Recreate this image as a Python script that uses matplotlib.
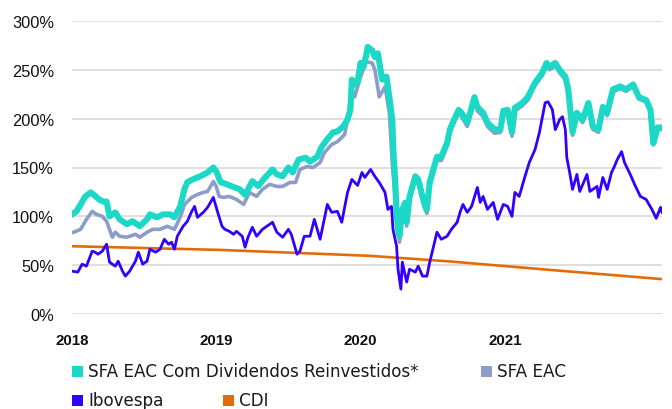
import matplotlib
matplotlib.use("Agg")
import matplotlib.pyplot as plt
from matplotlib.patches import Rectangle

# ---------------- data (decimal years, % values) ----------------
teal_t = [2018.00, 2018.03, 2018.06, 2018.09, 2018.13, 2018.16, 2018.19, 2018.22, 2018.24, 2018.26,
          2018.30, 2018.33, 2018.38, 2018.42, 2018.47, 2018.52, 2018.54, 2018.59, 2018.63, 2018.68,
          2018.71, 2018.75, 2018.78, 2018.80, 2018.84, 2018.89, 2018.94, 2018.98, 2019.00, 2019.03,
          2019.07, 2019.12, 2019.16, 2019.20, 2019.25, 2019.29, 2019.34, 2019.39, 2019.42, 2019.46,
          2019.50, 2019.53, 2019.57, 2019.62, 2019.65, 2019.70, 2019.73, 2019.77, 2019.81, 2019.84,
          2019.88, 2019.91, 2019.93, 2019.94, 2019.96, 2019.98, 2020.00, 2020.02, 2020.04, 2020.05,
          2020.08, 2020.10, 2020.12, 2020.15, 2020.18, 2020.20, 2020.22, 2020.23, 2020.24, 2020.25,
          2020.26, 2020.27, 2020.29, 2020.31, 2020.32, 2020.34, 2020.38, 2020.40, 2020.43, 2020.45,
          2020.46, 2020.48, 2020.53, 2020.56, 2020.60, 2020.62, 2020.64, 2020.68, 2020.70, 2020.74,
          2020.76, 2020.79, 2020.81, 2020.85, 2020.88, 2020.93, 2020.97, 2020.99, 2021.02, 2021.05,
          2021.07, 2021.12, 2021.16, 2021.21, 2021.26, 2021.29, 2021.31, 2021.35, 2021.38, 2021.42,
          2021.44, 2021.47, 2021.50, 2021.54, 2021.58, 2021.61, 2021.65, 2021.68, 2021.71, 2021.75,
          2021.80, 2021.84, 2021.89, 2021.93, 2021.98, 2022.01, 2022.03, 2022.06, 2022.09]
teal_v = [102, 105, 112, 120, 124.5, 121, 117, 115, 115, 100,
          104, 97, 92, 95, 90, 97, 102, 99, 102, 102,
          99, 110, 128, 135, 138, 141, 145, 150, 146, 135,
          133, 130, 128, 122, 136, 131, 140, 148, 143, 141,
          150, 145, 158, 160, 156, 161, 171, 179, 186, 187,
          192, 199, 209, 240, 235, 237, 257, 253, 265, 273.5,
          270, 263, 267, 240, 243, 222, 199, 161, 138, 104,
          87, 80, 107, 114, 94, 120, 141, 138, 120, 110,
          107, 135, 161, 161, 175, 189, 196, 209, 206, 196,
          206, 222, 212, 206, 196, 189, 189, 208, 209, 186,
          211, 216, 222, 237, 247, 257, 253, 257, 250, 243,
          230, 186, 206, 199, 216, 192, 189, 212, 206, 230,
          233, 230, 235, 222, 219, 209, 175, 191, 191]

grey_t = [2018.01, 2018.06, 2018.10, 2018.14, 2018.17, 2018.21, 2018.24, 2018.28, 2018.30, 2018.33,
          2018.38, 2018.44, 2018.47, 2018.52, 2018.56, 2018.61, 2018.66, 2018.71, 2018.75, 2018.78,
          2018.83, 2018.87, 2018.91, 2018.94, 2018.98, 2019.00, 2019.02, 2019.05, 2019.09, 2019.14,
          2019.19, 2019.23, 2019.28, 2019.32, 2019.37, 2019.42, 2019.46, 2019.51, 2019.55, 2019.58,
          2019.63, 2019.67, 2019.72, 2019.75, 2019.80, 2019.84, 2019.89, 2019.91, 2019.94, 2019.96,
          2020.00, 2020.04, 2020.08, 2020.10, 2020.13, 2020.17, 2020.20, 2020.22, 2020.25, 2020.27,
          2020.29, 2020.31, 2020.32, 2020.34, 2020.38, 2020.40, 2020.43, 2020.45, 2020.46, 2020.48,
          2020.53, 2020.56, 2020.60, 2020.62, 2020.64, 2020.68, 2020.70, 2020.74, 2020.76, 2020.79,
          2020.81, 2020.85, 2020.88, 2020.93, 2020.97, 2020.99, 2021.02, 2021.05, 2021.07, 2021.12,
          2021.16, 2021.21, 2021.26, 2021.29, 2021.31, 2021.35, 2021.38, 2021.42, 2021.44, 2021.47,
          2021.50, 2021.54, 2021.58, 2021.61, 2021.65, 2021.68, 2021.71, 2021.75, 2021.80, 2021.84,
          2021.89, 2021.93, 2021.98, 2022.01, 2022.03, 2022.06, 2022.09]
grey_v = [83.7, 86.7, 96.9, 105.1, 102, 100, 94.9, 78.6, 83.7, 79.6,
          78.6, 81.6, 78.6, 83.7, 86.7, 86.7, 89.8, 86.7, 99, 112.2,
          119.4, 122.4, 124.5, 125.5, 135.7, 130.6, 120.4, 119.4, 120.4, 117.3,
          112.2, 124.5, 120.4, 127.6, 132.7, 130.6, 130.6, 134.7, 134.7, 148,
          151, 150, 155.1, 165.3, 173.5, 176.5, 183.7, 199, 229.6, 222.4,
          242.9, 258.2, 257.1, 250, 222.4, 232.7, 206.1, 155.1, 100, 73.5,
          104, 111, 90, 117, 138, 134, 116, 106, 103, 131,
          158, 157, 172, 186, 193, 206, 202, 192, 203, 219,
          208, 202, 192, 185, 186, 204, 206, 182, 208, 213,
          219, 234, 244, 254, 250, 254, 247, 240, 227, 183,
          203, 196, 213, 189, 186, 209, 203, 227, 231, 228,
          233, 220, 217, 207, 173, 189, 189]

ibov_t = [2018.00, 2018.04, 2018.07, 2018.10, 2018.14, 2018.16, 2018.18, 2018.21, 2018.24, 2018.26,
          2018.30, 2018.32, 2018.35, 2018.37, 2018.40, 2018.44, 2018.46, 2018.49, 2018.52, 2018.54,
          2018.58, 2018.61, 2018.64, 2018.67, 2018.69, 2018.71, 2018.73, 2018.77, 2018.80, 2018.83,
          2018.85, 2018.87, 2018.91, 2018.94, 2018.98, 2019.01, 2019.04, 2019.06, 2019.09, 2019.12,
          2019.14, 2019.18, 2019.20, 2019.22, 2019.25, 2019.28, 2019.32, 2019.35, 2019.39, 2019.42,
          2019.46, 2019.50, 2019.52, 2019.56, 2019.58, 2019.61, 2019.65, 2019.68, 2019.72, 2019.77,
          2019.80, 2019.84, 2019.87, 2019.91, 2019.94, 2019.98, 2020.01, 2020.03, 2020.07, 2020.10,
          2020.13, 2020.17, 2020.19, 2020.215, 2020.225, 2020.25, 2020.26, 2020.28, 2020.29, 2020.32,
          2020.34, 2020.38, 2020.40, 2020.43, 2020.46, 2020.48, 2020.53, 2020.56, 2020.60, 2020.63,
          2020.67, 2020.69, 2020.71, 2020.74, 2020.77, 2020.81, 2020.83, 2020.85, 2020.88, 2020.92,
          2020.95, 2020.99, 2021.02, 2021.05, 2021.07, 2021.10, 2021.14, 2021.17, 2021.21, 2021.24,
          2021.28, 2021.30, 2021.33, 2021.35, 2021.36, 2021.38, 2021.40, 2021.42, 2021.43, 2021.45,
          2021.47, 2021.50, 2021.52, 2021.57, 2021.59, 2021.64, 2021.65, 2021.68, 2021.71, 2021.74,
          2021.76, 2021.78, 2021.81, 2021.83, 2021.87, 2021.90, 2021.94, 2021.98, 2022.02, 2022.05,
          2022.08, 2022.09]
ibov_v = [43.9, 42.9, 51.0, 49.0, 64.3, 63.3, 61.2, 64.3, 71.4, 53.1,
          49.0, 54.1, 43.9, 38.8, 43.9, 54.1, 63.3, 51.0, 54.1, 66.3,
          63.3, 66.3, 76.5, 71.4, 73.5, 66.3, 79.6, 89.8, 94.9, 105.1,
          110.2, 99.0, 104.1, 109.2, 119.4, 104.1, 89.8, 86.7, 84.7, 81.6,
          84.7, 79.6, 68.4, 78.6, 88.8, 79.6, 86.7, 89.8, 93.9, 83.7,
          78.6, 86.7, 81.6, 61.2, 64.3, 79.6, 79.6, 96.9, 76.5, 112.2,
          104.1, 105.1, 93.9, 124.5, 137.8, 131.6, 144.9, 139.8, 148.0, 140.8,
          134.7, 124.5, 107.1, 110.2, 86.7, 69.4, 45.9, 25.5, 53.1, 32.7,
          45.9, 42.9, 49.0, 38.8, 38.8, 53.1, 83.7, 76.5, 79.6, 86.7,
          93.9, 104.1, 112.2, 104.1, 110.2, 129.6, 114.3, 120.4, 107.1, 114.3,
          96.9, 112.2, 110.2, 100.0, 124.5, 120.4, 140.8, 155.1, 168.4, 185.7,
          216.3, 217.3, 209.2, 188.8, 191.8, 199.0, 202.0, 188.8, 160.2, 144.9,
          127.6, 142.9, 125.5, 142.9, 125.5, 130.6, 119.4, 139.8, 127.6, 144.9,
          151.0, 158.2, 166.3, 155.1, 142.9, 132.7, 120.4, 117.3, 107.1, 98.0,
          109.2, 104.1]

cdi_t = [2018.00, 2019.03, 2019.79, 2020.07, 2020.62, 2021.31, 2022.09]
cdi_v = [69.4, 65.6, 61.2, 59.5, 53.8, 45.2, 35.7]

y_ticks = [0, 50, 100, 150, 200, 250, 300]
y_labels = ["0%", "50%", "100%", "150%", "200%", "250%", "300%"]
x_ticks = [2018, 2019, 2020, 2021]
x_labels = ["2018", "2019", "2020", "2021"]

series_names = ["SFA EAC Com Dividendos Reinvestidos*", "SFA EAC", "Ibovespa", "CDI"]
C_TEAL = "#1BD9C6"
C_GREY = "#8E9CC9"
C_IBOV = "#3300FF"
C_CDI = "#E36C0A"

# ---------------- figure ----------------
W, H = 672, 410
fig = plt.figure(figsize=(W / 100, H / 100), dpi=100)
ax = fig.add_axes([72 / W, 95 / H, 590 / W, 293 / H])

ax.plot(grey_t, grey_v, color=C_GREY, lw=2.6, zorder=2, solid_joinstyle="round")
ax.plot(teal_t, teal_v, color=C_TEAL, lw=4.4, zorder=3, solid_joinstyle="round")
ax.plot(cdi_t, cdi_v, color=C_CDI, lw=1.9, zorder=4)
ax.plot(ibov_t, ibov_v, color=C_IBOV, lw=2.0, zorder=5, solid_joinstyle="round")

ax.set_xlim(2018.0, 2022.09)
ax.set_ylim(0, 300)
ax.set_yticks(y_ticks)
ax.set_yticklabels(y_labels, fontsize=11.8, family="Liberation Sans", color="#111111")
ax.set_xticks(x_ticks)
ax.set_xticklabels(x_labels, fontsize=10.8, family="Liberation Sans", fontweight="bold",
                   color="#111111")
ax.tick_params(axis="y", length=0, pad=13)
ax.tick_params(axis="x", length=0, pad=14)
for s in ax.spines.values():
    s.set_visible(False)
ax.grid(axis="y", color="#d9d9d9", lw=1.2, zorder=0)
ax.set_axisbelow(True)
ax.patch.set_alpha(0)

# ---------------- legend (manual) ----------------
def leg_item(x_px, y_px, color, label):
    fig.patches.append(Rectangle((x_px / W, 1 - (y_px + 5.5) / H), 11 / W, 11 / H,
                                 transform=fig.transFigure, facecolor=color,
                                 edgecolor="none"))
    fig.text((x_px + 16) / W, 1 - y_px / H, label, fontsize=12.1, family="DejaVu Sans",
             color="#1a1a1a", va="center", ha="left")

leg_item(72, 372, C_TEAL, series_names[0])
leg_item(481, 372, C_GREY, series_names[1])
leg_item(72, 401, C_IBOV, series_names[2])
leg_item(223, 401, C_CDI, series_names[3])

fig.savefig("out.png", dpi=100)
